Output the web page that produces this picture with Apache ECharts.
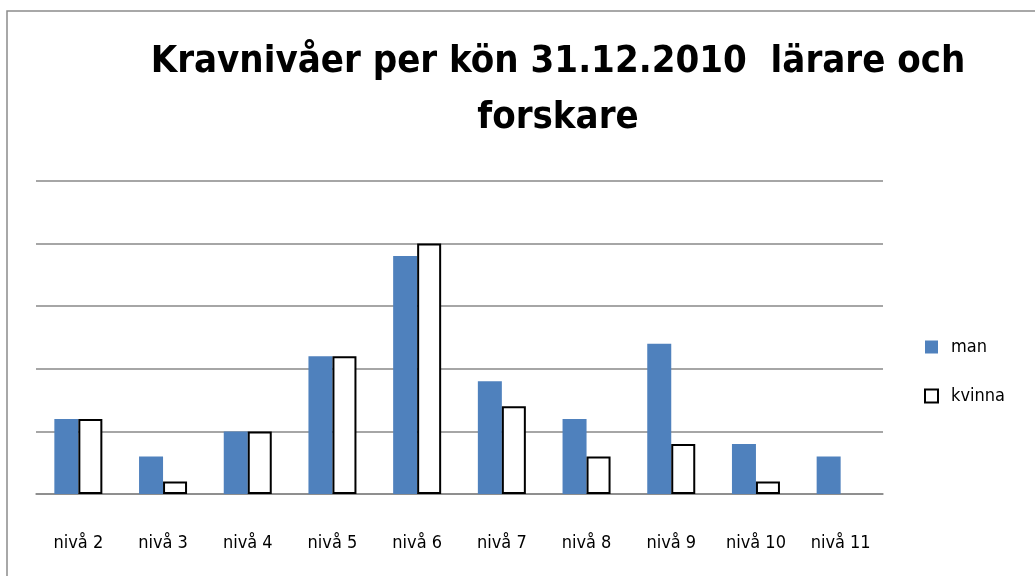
<!DOCTYPE html>
<html>
<head>
<meta charset="utf-8">
<script src="https://cdn.jsdelivr.net/npm/echarts@6/dist/echarts.min.js"></script>
<style>
  html, body { margin: 0; padding: 0; background: #fff; }
  #chart { width: 1035px; height: 576px; }
</style>
</head>
<body>
<div id="chart"></div>
<script>
var levels = ['nivå 2', 'nivå 3', 'nivå 4', 'nivå 5', 'nivå 6', 'nivå 7', 'nivå 8', 'nivå 9', 'nivå 10', 'nivå 11'];
var manData = [6, 3, 5, 11, 19, 9, 6, 12, 4, 3];
// nivå 11 has no kvinna value
var kvinnaData = [6, 1, 5, 11, 20, 7, 3, 4, 1, '-'];

var font = "'Liberation Sans Narrow', 'DejaVu Sans Condensed', 'Open Sans', sans-serif";
var chart = echarts.init(document.getElementById('chart'));

var option = {
    animation: false,
    backgroundColor: '#fff',
    title: {
        text: 'Kravnivåer per kön 31.12.2010  lärare och\nforskare',
        left: 553,
        textAlign: 'center',
        top: 29,
        textStyle: {
            fontFamily: font,
            fontSize: 38,
            fontWeight: 'bold',
            color: '#000',
            lineHeight: 56
        }
    },
    graphic: [{
        type: 'rect',
        shape: { x: 7, y: 11, width: 1040, height: 580 },
        style: { fill: null, stroke: '#8c8c8c', lineWidth: 1.5 },
        silent: true
    }],
    legend: {
        orient: 'vertical',
        left: 919,
        top: 333,
        itemWidth: 13,
        itemHeight: 13,
        itemGap: 31,
        icon: 'rect',
        textStyle: { fontFamily: font, fontSize: 18, color: '#000', padding: [0, 0, 0, 8] },
        data: ['man', 'kvinna']
    },
    grid: {
        left: 36,
        right: 152,
        top: 181,
        bottom: 82
    },
    xAxis: {
        type: 'category',
        data: levels,
        axisTick: { show: false },
        axisLine: { lineStyle: { color: '#888', width: 1.5 } },
        axisLabel: { fontFamily: font, fontSize: 18, color: '#000', margin: 40 }
    },
    yAxis: {
        type: 'value',
        min: 0,
        max: 25,
        interval: 5,
        axisLabel: { show: false },
        axisLine: { show: false },
        axisTick: { show: false },
        splitLine: { lineStyle: { color: '#888', width: 1.5 } }
    },
    series: [{
        name: 'man',
        type: 'bar',
        data: manData,
        barWidth: 24,
        barGap: '0%',
        itemStyle: { color: '#4f81bd' }
    }, {
        name: 'kvinna',
        type: 'bar',
        data: kvinnaData,
        barWidth: 24,
        itemStyle: { color: '#fff', borderColor: '#000', borderWidth: 2 }
    }]
};

chart.setOption(option);
</script>
</body>
</html>
